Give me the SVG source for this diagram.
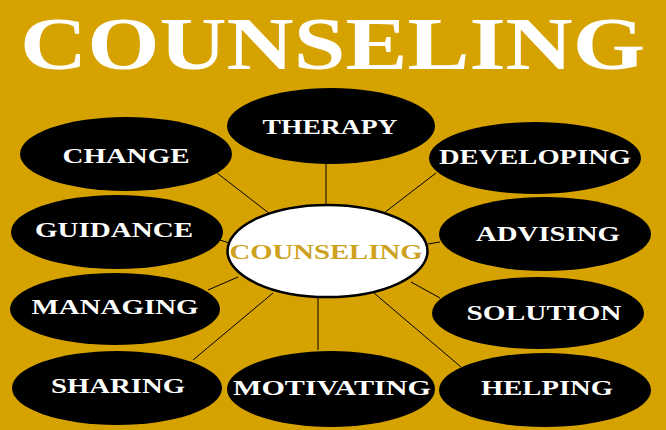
<svg xmlns="http://www.w3.org/2000/svg" width="666" height="430" viewBox="0 0 666 430">
<style>
.bg{fill:#D5A200}
.node ellipse{fill:#000}
.node text{fill:#fff;font-family:"Liberation Serif","Times New Roman",serif;font-weight:bold;font-size:22px;text-anchor:middle}
.title{fill:#fff;font-family:"Liberation Serif","Times New Roman",serif;font-weight:bold;font-size:73px}
.conn line{stroke:#000;stroke-width:1}
#center ellipse{fill:#fff;stroke:#000;stroke-width:2.5}
#center text{fill:#CDA21E}
</style>
<rect class="bg" x="0" y="0" width="666" height="430"/>
<text class="title" x="20" y="69" textLength="625" lengthAdjust="spacingAndGlyphs">COUNSELING</text>
<g id="connectors" class="conn">
<line x1="326" y1="163" x2="326" y2="207"/>
<line x1="217" y1="173" x2="270" y2="214"/>
<line x1="220" y1="240" x2="229" y2="243"/>
<line x1="436" y1="173" x2="384" y2="213"/>
<line x1="440" y1="242" x2="428" y2="244"/>
<line x1="208" y1="290" x2="238" y2="277"/>
<line x1="193" y1="360" x2="273" y2="293"/>
<line x1="318" y1="297" x2="318" y2="350"/>
<line x1="411" y1="282" x2="440" y2="298"/>
<line x1="374" y1="293" x2="461" y2="367"/>
</g>
<g id="therapy" class="node"><ellipse cx="331" cy="126" rx="104" ry="38"/><text x="330" y="134" textLength="135" lengthAdjust="spacingAndGlyphs">THERAPY</text></g>
<g id="change" class="node"><ellipse cx="126" cy="154" rx="106" ry="37"/><text x="126" y="163" textLength="127" lengthAdjust="spacingAndGlyphs">CHANGE</text></g>
<g id="developing" class="node"><ellipse cx="535" cy="158" rx="106" ry="36"/><text x="535" y="164" textLength="192" lengthAdjust="spacingAndGlyphs">DEVELOPING</text></g>
<g id="guidance" class="node"><ellipse cx="117" cy="232" rx="106" ry="37"/><text x="114" y="237" textLength="158" lengthAdjust="spacingAndGlyphs">GUIDANCE</text></g>
<g id="advising" class="node"><ellipse cx="545" cy="234" rx="106" ry="37"/><text x="548" y="241" textLength="144" lengthAdjust="spacingAndGlyphs">ADVISING</text></g>
<g id="managing" class="node"><ellipse cx="115" cy="309" rx="105" ry="36"/><text x="115" y="314" textLength="167" lengthAdjust="spacingAndGlyphs">MANAGING</text></g>
<g id="solution" class="node"><ellipse cx="538" cy="313" rx="106" ry="36"/><text x="544" y="320" textLength="155" lengthAdjust="spacingAndGlyphs">SOLUTION</text></g>
<g id="sharing" class="node"><ellipse cx="117" cy="388" rx="105" ry="37"/><text x="118" y="393" textLength="134" lengthAdjust="spacingAndGlyphs">SHARING</text></g>
<g id="motivating" class="node"><ellipse cx="331" cy="389" rx="104" ry="38"/><text x="332" y="395" textLength="198" lengthAdjust="spacingAndGlyphs">MOTIVATING</text></g>
<g id="helping" class="node"><ellipse cx="545" cy="390" rx="106" ry="37"/><text x="547" y="395" textLength="132" lengthAdjust="spacingAndGlyphs">HELPING</text></g>
<g id="center" class="node"><ellipse cx="327.5" cy="251" rx="100" ry="46"/><text x="326" y="259" textLength="193" lengthAdjust="spacingAndGlyphs">COUNSELING</text></g>
</svg>
